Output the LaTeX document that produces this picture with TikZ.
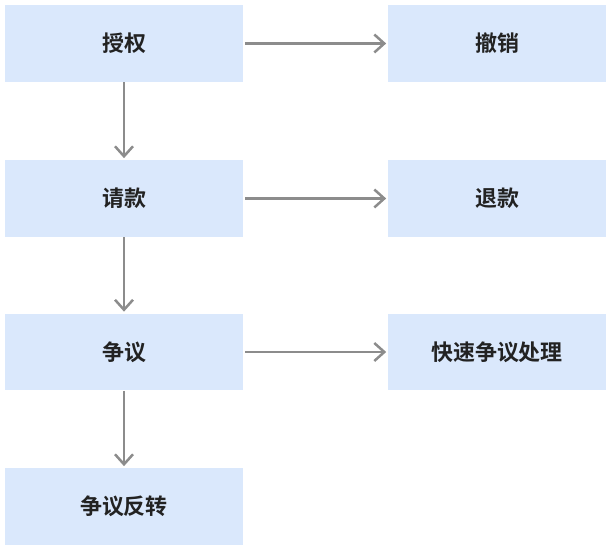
\documentclass[tikz,border=0pt]{standalone}
\usepackage{fontspec}
\newfontfamily\cjkb{Noto Sans CJK SC Bold}
\usetikzlibrary{arrows.meta}
\definecolor{boxfill}{HTML}{DAE8FC}
\definecolor{linegray}{HTML}{8C8C8C}
\definecolor{txt}{HTML}{222222}
\tikzset{
  box/.style={fill=boxfill, draw=none, minimum width=4.76cm, minimum height=1.54cm,
    inner sep=0pt, font=\cjkb\fontsize{12.5pt}{14pt}\selectfont, text=txt},
  flow/.style={draw=linegray, line width=0.055cm, -{Straight Barb[length=0.2cm,width=0.36cm,line width=0.05cm]}, shorten >=0.03cm}
}
\begin{document}
\begin{tikzpicture}[x=0.02cm,y=-0.02cm]
\useasboundingbox (0,0) rectangle (613,550);

% left column
\node[box] (auth) at (124,43.5) {授权};
\node[box] (capture) at (124,198.5) {请款};
\node[box] (dispute) at (124,352) {争议};
\node[box] (reversal) at (124,506.5) {争议反转};

% right column
\node[box, minimum width=4.36cm] (void) at (497,43.5) {撤销};
\node[box, minimum width=4.36cm] (refund) at (497,198.5) {退款};
\node[box, minimum width=4.36cm] (fast) at (497,352) {快速争议处理};

% connectors
\draw[flow] (auth) -- (capture);
\draw[flow] (capture) -- (dispute);
\draw[flow] (dispute) -- (reversal);
\draw[flow] ([xshift=0.04cm]auth.east) -- (void);
\draw[flow] ([xshift=0.04cm]capture.east) -- (refund);
\draw[flow] ([xshift=0.04cm]dispute.east) -- (fast);
\end{tikzpicture}
\end{document}
